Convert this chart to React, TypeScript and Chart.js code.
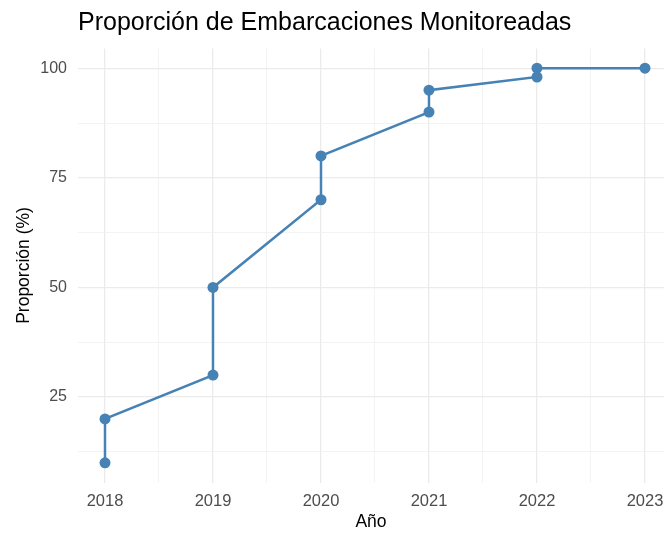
import React, { useEffect, useRef } from "react";
import { Chart, registerables } from "chart.js";

Chart.register(...registerables);

const years: number[] = [2018, 2018, 2019, 2019, 2020, 2020, 2021, 2021, 2022, 2022, 2023];
const proportions: number[] = [10, 20, 30, 50, 70, 80, 90, 95, 98, 100, 100];
const xTicks: number[] = [2018, 2018.5, 2019, 2019.5, 2020, 2020.5, 2021, 2021.5, 2022, 2022.5, 2023];
const yTicks: number[] = [12.5, 25, 37.5, 50, 62.5, 75, 87.5, 100];
const yLabelled: number[] = [25, 50, 75, 100];

const FONT = "'Liberation Sans', Arial, sans-serif";

export default function App() {
  const ref = useRef<HTMLCanvasElement | null>(null);
  useEffect(() => {
    if (!ref.current) return;
    const chart = new Chart(ref.current, {
      type: "line",
      data: {
        datasets: [
          {
            data: years.map((x, i) => ({ x, y: proportions[i] })),
            borderColor: "#4682B4",
            backgroundColor: "#4682B4",
            borderWidth: 2.5,
            pointRadius: 5.5,
            pointHoverRadius: 5.5,
            pointBorderWidth: 0,
            tension: 0,
            clip: false,
          },
        ],
      },
      options: {
        animation: false,
        responsive: false,
        layout: { autoPadding: false, padding: { left: 0, right: 0, top: 0, bottom: 0 } },
        plugins: {
          legend: { display: false },
          tooltip: { enabled: false },
          title: {
            display: true,
            text: "Proporción de Embarcaciones Monitoreadas",
            align: "start",
            fullSize: false,
            color: "#000000",
            font: { family: FONT, size: 25, weight: "normal" },
            padding: { top: 8.5, bottom: 10 },
          },
        },
        scales: {
          x: {
            type: "linear",
            min: 2017.75,
            max: 2023.176,
            afterBuildTicks: (s: any) => {
              s.ticks = xTicks.map((v) => ({ value: v }));
            },
            afterFit: (s: any) => {
              s.height = 51.5;
              s.paddingLeft = 0;
              s.paddingRight = 0;
            },
            border: { display: false },
            grid: {
              drawTicks: false,
              color: (c: any) => (Number.isInteger(c.tick?.value) ? "#EBEBEB" : "#F2F2F2"),
              lineWidth: (c: any) => (Number.isInteger(c.tick?.value) ? 1.3 : 0.9),
            },
            ticks: {
              autoSkip: false,
              maxRotation: 0,
              padding: 9,
              color: "#4D4D4D",
              font: { family: FONT, size: 16.5 },
              callback: (v: any) => (Number.isInteger(v) ? String(v) : ""),
            },
            title: {
              display: true,
              text: "Año",
              color: "#000000",
              font: { family: FONT, size: 17.5 },
              padding: { top: 2, bottom: 1.5 },
            },
          },
          y: {
            type: "linear",
            min: 5.5,
            max: 104.5,
            afterBuildTicks: (s: any) => {
              s.ticks = yTicks.map((v) => ({ value: v }));
            },
            afterFit: (s: any) => {
              s.width = 78;
              s.paddingTop = 0;
              s.paddingBottom = 0;
            },
            border: { display: false },
            grid: {
              drawTicks: false,
              color: (c: any) => (yLabelled.includes(c.tick?.value) ? "#EBEBEB" : "#F2F2F2"),
              lineWidth: (c: any) => (yLabelled.includes(c.tick?.value) ? 1.3 : 0.9),
            },
            ticks: {
              autoSkip: false,
              padding: 11,
              color: "#4D4D4D",
              font: { family: FONT, size: 16 },
              callback: (v: any) => (yLabelled.includes(v) ? String(v) : ""),
            },
            title: {
              display: true,
              text: "Proporción (%)",
              color: "#000000",
              font: { family: FONT, size: 17.5 },
              padding: { top: 13.5, bottom: 0 },
            },
          },
        },
      },
    });
    return () => chart.destroy();
  }, []);
  return (
    <div style={{ position: "fixed", left: 0, top: 0, width: 664, height: 534, background: "#ffffff" }}>
      <canvas ref={ref} width={664} height={534} style={{ display: "block", width: 664, height: 534 }} />
    </div>
  );
}
